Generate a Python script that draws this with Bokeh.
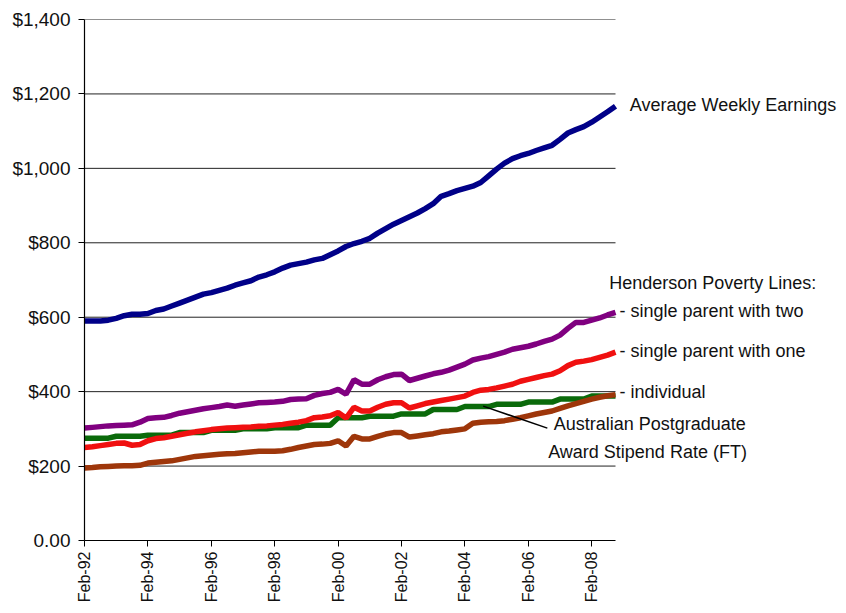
import math
from bokeh.plotting import figure
from bokeh.models import ColumnDataSource, Range1d, FixedTicker, Label, Arrow
from bokeh.embed import file_html
from bokeh.resources import INLINE

# ---- data (quarterly, Feb-92 .. Feb-09) ----
awe = [590, 590, 590, 592, 597, 604, 608, 608, 610, 618, 622, 630, 638, 646, 654, 662,
       666, 672, 678, 686, 692, 698, 708, 714, 722, 732, 740, 744, 748, 754, 758, 768,
       778, 790, 798, 804, 812, 826, 838, 850, 860, 870, 880, 892, 905, 925, 932, 940,
       946, 952, 962, 980, 998, 1014, 1026, 1034, 1040, 1048, 1055, 1062, 1078, 1095,
       1104, 1112, 1124, 1138, 1152, 1167]
parent_two = [302, 304, 306, 308, 309, 310, 311, 318, 328, 330, 331, 336, 342, 346, 350, 354,
              357, 360, 364, 361, 364, 367, 370, 371, 372, 374, 379, 380, 381, 390, 395, 398,
              406, 393, 432, 420, 420, 432, 440, 446, 447, 430, 436, 442, 448, 452, 458, 466,
              474, 485, 490, 494, 500, 506, 514, 518, 522, 528, 535, 541, 552, 570, 586, 586,
              592, 598, 606, 613]
parent_one = [250, 252, 255, 258, 261, 262, 256, 258, 268, 274, 276, 280, 284, 288, 292, 295,
              298, 300, 302, 303, 304, 305, 307, 308, 310, 312, 315, 318, 322, 330, 332, 335,
              344, 329, 358, 348, 348, 358, 366, 370, 370, 356, 362, 368, 372, 376, 380, 384,
              388, 398, 404, 406, 410, 415, 420, 428, 433, 438, 443, 447, 456, 470, 479, 482,
              486, 492, 498, 506]
individual = [195, 196, 198, 199, 200, 201, 201, 202, 208, 210, 212, 214, 218, 222, 226, 228,
              230, 232, 233, 234, 236, 238, 240, 240, 240, 241, 245, 250, 254, 258, 259, 261,
              268, 254, 280, 273, 273, 280, 286, 290, 290, 278, 281, 284, 287, 292, 294, 297,
              300, 315, 318, 319, 320, 322, 326, 330, 335, 340, 344, 348, 355, 362, 368, 374,
              380, 385, 389, 392]
apa = [275, 275, 275, 275, 280, 280, 280, 280, 283, 283, 283, 283, 290, 290, 290, 290,
       296, 296, 296, 296, 300, 300, 300, 300, 303, 303, 303, 303, 310, 310, 310, 310,
       330, 330, 330, 330, 334, 334, 334, 334, 340, 340, 340, 340, 352, 352, 352, 352,
       360, 360, 360, 360, 366, 366, 366, 366, 372, 372, 372, 372, 380, 380, 380, 380,
       388, 388, 388, 388]
quarter_index = list(range(len(awe)))

x_tick_pos = [0, 8, 16, 24, 32, 40, 48, 56, 64]
x_tick_labels = ["Feb-92", "Feb-94", "Feb-96", "Feb-98", "Feb-00", "Feb-02",
                 "Feb-04", "Feb-06", "Feb-08"]
y_tick_pos = [0, 200, 400, 600, 800, 1000, 1200, 1400]
y_tick_labels = ["0.00", "$200", "$400", "$600", "$800", "$1,000", "$1,200", "$1,400"]

FONT = "Liberation Sans"

W, H = 838, 605
LEFT, TOP, BOTTOM = 84, 19, 63
DATA_W = 531  # pixel width of the data span
last = len(awe) - 1
x_end = last * (W - LEFT) / DATA_W

src = ColumnDataSource(dict(q=quarter_index, awe=awe, two=parent_two, one=parent_one,
                            ind=individual, apa=apa))

p = figure(width=W, height=H, output_backend="svg", toolbar_location=None,
           x_range=Range1d(0, x_end), y_range=Range1d(0, 1400),
           min_border_left=LEFT, min_border_right=0, min_border_top=TOP,
           min_border_bottom=BOTTOM)
p.outline_line_color = None
p.background_fill_color = "white"
p.border_fill_color = "white"
p.xgrid.grid_line_color = None
p.ygrid.grid_line_color = None

# horizontal gridlines limited to the data span
grid_y = y_tick_pos[1:]
p.segment(x0=[0] * len(grid_y), x1=[last] * len(grid_y), y0=grid_y, y1=grid_y,
          line_color="#222222", line_width=1)

p.xaxis.ticker = FixedTicker(ticks=x_tick_pos)
p.xaxis.major_label_overrides = {t: l for t, l in zip(x_tick_pos, x_tick_labels)}
p.xaxis.major_label_orientation = math.pi / 2
p.xaxis.bounds = (0, last)
p.yaxis.ticker = FixedTicker(ticks=y_tick_pos)
p.yaxis.major_label_overrides = {t: l for t, l in zip(y_tick_pos, y_tick_labels)}
for ax in (p.xaxis, p.yaxis):
    ax.axis_line_color = "black"
    ax.axis_line_width = 1.2
    ax.major_tick_line_color = "black"
    ax.major_tick_out = 6
    ax.major_tick_in = 0
    ax.minor_tick_line_color = None
    ax.major_label_text_font = FONT
    ax.major_label_text_color = "#111111"
p.yaxis.major_label_text_font_size = "19px"
p.xaxis.major_label_text_font_size = "16px"
p.yaxis.major_label_standoff = 8
p.xaxis.major_label_standoff = 5

LW = 5.5
p.line("q", "apa", source=src, line_color="#0a6a0a", line_width=LW)
p.line("q", "ind", source=src, line_color="#9e360a", line_width=LW)
p.line("q", "one", source=src, line_color="#f01010", line_width=LW)
p.line("q", "two", source=src, line_color="#800080", line_width=LW)
p.line("q", "awe", source=src, line_color="#000088", line_width=LW)

labels = [
    ("Average Weekly Earnings", 68.8, 1170),
    ("Henderson Poverty Lines:", 66.2, 693),
    ("- single parent with two", 67.5, 616),
    ("- single parent with one", 67.5, 509),
    ("- individual", 67.5, 399),
    ("Australian Postgraduate", 59.2, 313),
    ("Award Stipend Rate (FT)", 58.5, 238),
]
for txt, lx, ly in labels:
    p.add_layout(Label(x=lx, y=ly, text=txt, text_font=FONT, text_font_size="18px",
                       text_baseline="middle", text_align="left", text_color="#111111"))

p.add_layout(Arrow(end=None, x_start=50.3, y_start=361, x_end=58.4, y_end=302,
                   line_color="black", line_width=1.5))

open("out.html", "w").write(file_html(p, INLINE))
